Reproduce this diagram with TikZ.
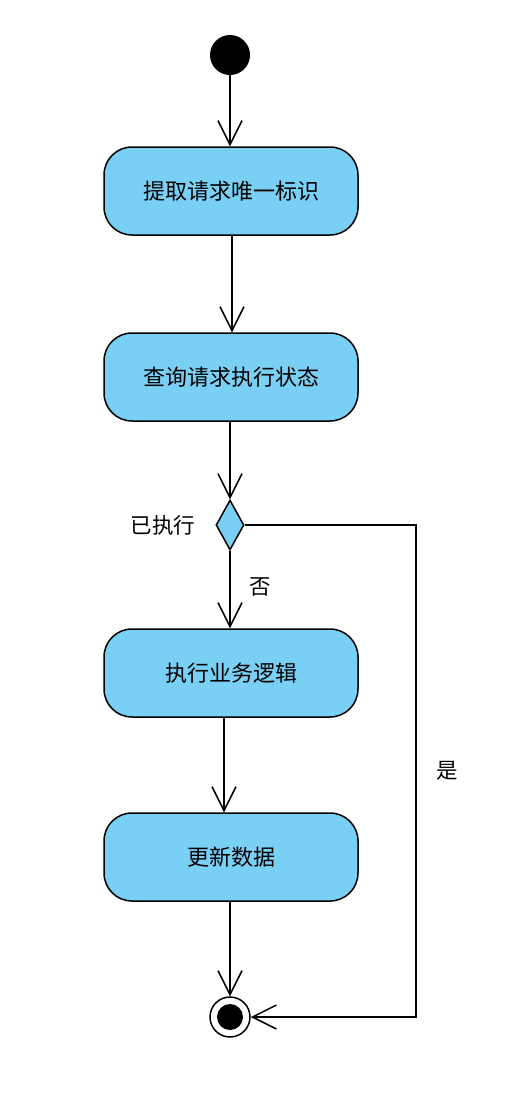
\documentclass[tikz,border=0pt]{standalone}
\usepackage{fontspec}
\newfontfamily\cjk{Noto Sans CJK SC}
\usetikzlibrary{arrows.meta,shapes.geometric}
\definecolor{actblue}{RGB}{122,207,244}
\tikzset{
  flow/.style={line width=1.5pt, -{Straight Barb[length=24pt,width=24pt,line width=1.5pt]}},
  actbox/.style={draw, line width=1.5pt, fill=actblue, rounded corners=28pt,
    minimum width=254pt, minimum height=88pt, font=\cjk\fontsize{22}{22}\selectfont},
  label/.style={font=\cjk\fontsize{21.5}{21.5}\selectfont}
}
\begin{document}
\begin{tikzpicture}[x=1pt,y=-1pt]
    \useasboundingbox (0,0) rectangle (510,1096);
    \node[circle, fill=black, minimum size=40pt, inner sep=0pt] (start) at (230,55) {};
    \node[actbox] (extract) at (231,191) {提取请求唯一标识};
    \node[actbox] (query) at (231,377) {查询请求执行状态};
    \node[diamond, draw, line width=1.5pt, fill=actblue, minimum width=28pt, minimum height=50pt, inner sep=0pt] (decide) at (230,525) {};
    \node[actbox] (exec) at (231,673) {执行业务逻辑};
    \node[actbox] (update) at (231,857) {更新数据};
    \node[circle, draw, line width=1.5pt, fill=white, minimum size=40pt, inner sep=0pt] (end) at (230,1017) {};
    \node[circle, fill=black, minimum size=26pt, inner sep=0pt] (endin) at (end) {};

    \node[label] (done) at (163,525) {已执行};
    \node[label] (no) at (260,587) {否};
    \node[label] (yes) at (447,771) {是};
    \coordinate (turn) at (416,525);

    \draw[flow] (start) to (extract.north -| start);
    \draw[flow] ([xshift=1pt]extract.south) to ([xshift=1pt]query.north);
    \draw[flow] (query.south -| decide) to (decide.north);
    \draw[flow] (decide.south) to (exec.north -| decide);
    \draw[flow] ([xshift=-7pt]exec.south) to ([xshift=-7pt]update.north);
    \draw[flow] (update.south -| end) to (end.north);
    \draw[flow] (decide.east) -- (turn) |- (end.east);
\end{tikzpicture}
\end{document}
